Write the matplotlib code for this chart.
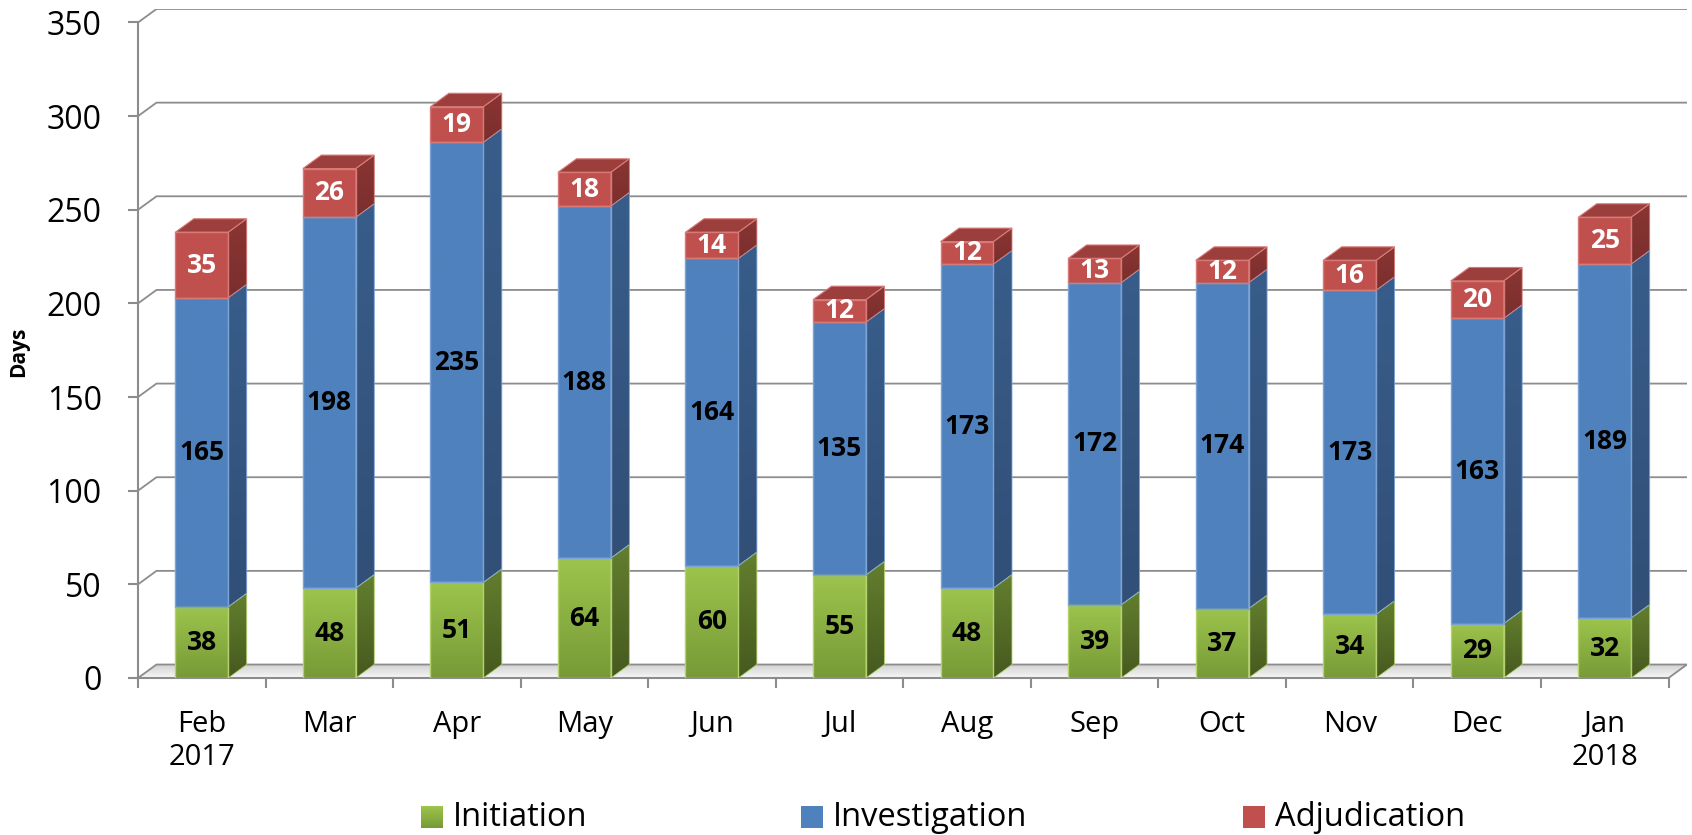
import numpy as np
import matplotlib
matplotlib.use('agg')
import matplotlib.pyplot as plt
from matplotlib.patches import Polygon
from matplotlib.colors import LinearSegmentedColormap

plt.rcParams['font.family'] = ['Open Sans', 'DejaVu Sans']

# data
months = ['Feb\n2017', 'Mar', 'Apr', 'May', 'Jun', 'Jul', 'Aug', 'Sep', 'Oct', 'Nov', 'Dec', 'Jan\n2018']
initiation = [38, 48, 51, 64, 60, 55, 48, 39, 37, 34, 29, 32]
investigation = [165, 198, 235, 188, 164, 135, 173, 172, 174, 173, 163, 189]
adjudication = [35, 26, 19, 18, 14, 12, 12, 13, 12, 16, 20, 25]
series_names = ['Initiation', 'Investigation', 'Adjudication']
yticks = [0, 50, 100, 150, 200, 250, 300, 350]

# 3d look: depth offset in data units
DX, DY = 0.145, 7.2
BW = 0.415
GRID = '#8c8c8c'

styles = [
    dict(ft='#9dc44c', fb='#779a37', st='#637f2e', sb='#46591f', top='#86a83e', edge='#b3d26e', lc='black'),
    dict(ft='#4f81bd', fb='#4f81bd', st='#385d8a', sb='#314f77', top='#41699b', edge='#7ba3d6', lc='black'),
    dict(ft='#c0504d', fb='#c0504d', st='#8a3533', sb='#7a2f2d', top='#9b3e3c', edge='#d77a77', lc='white'),
]

fig = plt.figure(figsize=(16.92, 8.35), dpi=100)
x0, x1 = -0.5, len(months) - 0.5
ymax = 350
ax = fig.add_axes([138 / 1692, 1 - 678 / 835, (1687 - 138) / 1692, (678 - 9) / 835])
ax.set_xlim(x0, x1 + DX)
ax.set_ylim(0, ymax + DY)


def grad_poly(xy, ctop, cbot, z, edge=None, lw=0.0):
    poly = Polygon(xy, closed=True, facecolor='none', edgecolor='none', zorder=z)
    ax.add_patch(poly)
    xs = [p[0] for p in xy]
    ys = [p[1] for p in xy]
    cmap = LinearSegmentedColormap.from_list('g', [cbot, ctop])
    grad = np.linspace(0, 1, 256).reshape(-1, 1)
    im = ax.imshow(grad, cmap=cmap, origin='lower', aspect='auto', interpolation='bilinear',
                   extent=(min(xs), max(xs), min(ys), max(ys)), zorder=z)
    im.set_clip_path(poly)
    if edge is not None:
        ax.add_patch(Polygon(xy, closed=True, facecolor='none', edgecolor=edge, lw=lw, zorder=z + 0.01))


# floor
floor = [(x0, 0), (x0 + DX, DY), (x1 + DX, DY), (x1, 0)]
grad_poly(floor, '#cfcfcf', '#f8f8f8', 1, edge=GRID, lw=1.3)

# gridlines on the back wall
for v in yticks[1:]:
    ax.plot([x0, x0 + DX, x1 + DX], [v, v + DY, v + DY], color=GRID, lw=1.3, zorder=1.5,
            solid_joinstyle='miter')

# bars
xs = np.arange(len(months))
bottoms = np.zeros(len(months))
series = [initiation, investigation, adjudication]
for si, vals in enumerate(series):
    st = styles[si]
    for i, v in enumerate(vals):
        b = bottoms[i]
        t = b + v
        l, r = xs[i] - BW / 2, xs[i] + BW / 2
        z = 3 + i * 0.1
        grad_poly([(l, b), (l, t), (r, t), (r, b)], st['ft'], st['fb'], z, edge=st['edge'], lw=1.0)
        grad_poly([(r, b), (r + DX, b + DY), (r + DX, t + DY), (r, t)], st['st'], st['sb'], z,
                  edge=st['edge'], lw=0.6)
        if si == len(series) - 1:
            ax.add_patch(Polygon([(l, t), (l + DX, t + DY), (r + DX, t + DY), (r, t)], closed=True,
                                 facecolor=st['top'], edgecolor=st['edge'], lw=0.8, zorder=z))
        ax.text(xs[i], b + v / 2, str(v), ha='center', va='center', fontsize=19,
                fontweight='bold', color=st['lc'], zorder=10)
    bottoms += np.array(vals)

# axes
for s in ['top', 'right']:
    ax.spines[s].set_visible(False)
ax.spines['left'].set_bounds(0, ymax)
ax.spines['bottom'].set_bounds(x0, x1)
for s in ['left', 'bottom']:
    ax.spines[s].set_color(GRID)
    ax.spines[s].set_linewidth(1.5)
    ax.spines[s].set_zorder(2)

ax.set_yticks(yticks)
ax.set_yticklabels([str(v) for v in yticks])
ax.tick_params(axis='y', length=7.2, width=1.5, color=GRID, direction='out', pad=19, labelsize=23)
ax.set_xticks(np.arange(x0, x1 + 0.01, 1.0))
ax.set_xticklabels([])
ax.tick_params(axis='x', which='major', length=7.2, width=1.5, color=GRID, direction='out')
ax.set_xticks(xs, minor=True)
ax.set_xticklabels(months, minor=True)
ax.tick_params(axis='x', which='minor', length=0, pad=23, labelsize=21)

fig.text(19 / 1692, 1 - 352 / 835, 'Days', rotation=90, ha='center', va='center',
         fontsize=15, fontweight='bold')

# legend
leg_x = [421, 801, 1243]
for k, name in enumerate(series_names):
    st = styles[k]
    sq = fig.add_axes([leg_x[k] / 1692, 1 - 828 / 835, 22 / 1692, 22 / 835])
    sq.imshow(np.linspace(0, 1, 64).reshape(-1, 1), aspect='auto', origin='lower',
              cmap=LinearSegmentedColormap.from_list('l', [st['fb'], st['ft']]))
    sq.set_axis_off()
    fig.text((leg_x[k] + 32) / 1692, 1 - 817 / 835, name, ha='left', va='center', fontsize=23.5)

fig.savefig('out.png', dpi=100)
